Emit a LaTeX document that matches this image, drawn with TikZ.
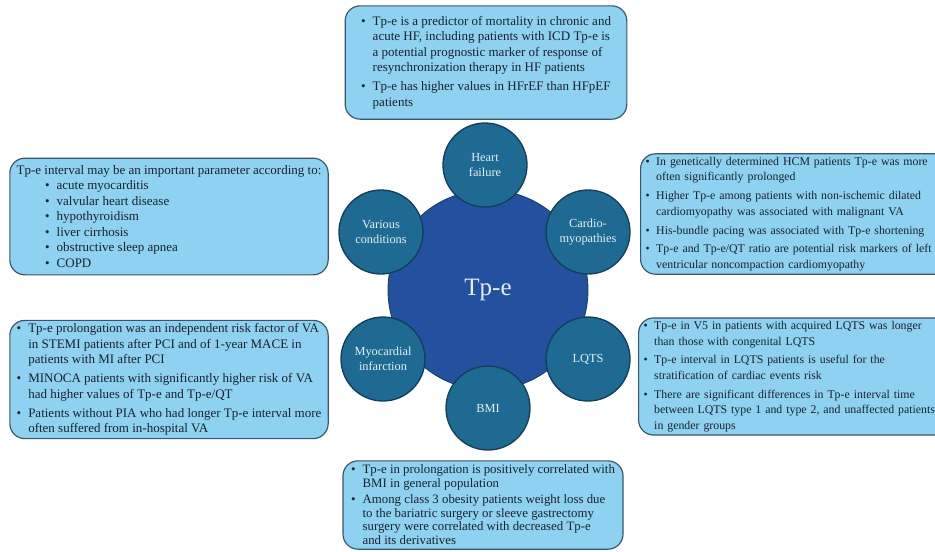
\documentclass[tikz,border=0pt]{standalone}
\usepackage{fontspec}
\setmainfont{Liberation Serif}
\usetikzlibrary{positioning}
\definecolor{tpeHub}{HTML}{2351A0}
\definecolor{tpeTopic}{HTML}{1F6A92}
\definecolor{tpeRim}{HTML}{123E5A}
\definecolor{tpeBox}{HTML}{8FD1F1}
\definecolor{tpeEdge}{HTML}{3A5568}
\definecolor{tpeInk}{HTML}{17222E}
\definecolor{tpeLabel}{HTML}{E6EEF4}
\newcommand{\itm}{\makebox[0.9em][l]{\textbullet}}
\newcommand{\cnt}{\hspace*{0.9em}}
\tikzset{
  infobox/.style={draw=tpeEdge, line width=0.7pt, fill=tpeBox, rounded corners=9pt,
              align=left, inner xsep=2pt, inner ysep=2pt, text=tpeInk,
              font=\fontsize{7.8}{9.3}\selectfont},
  narrow/.style={font=\fontsize{7.1}{9.3}\selectfont, text width=184pt, inner xsep=3pt},
  tight/.style={font=\fontsize{7.7}{8.3}\selectfont},
  hub/.style={circle, draw=tpeRim, line width=0.5pt, fill=tpeHub, minimum size=120pt,
              text=tpeLabel, font=\fontsize{15}{17}\selectfont},
  topic/.style={circle, draw=tpeRim, line width=0.8pt, fill=tpeTopic, minimum size=50.4pt,
              inner sep=0pt, align=center, text=tpeLabel, font=\fontsize{7.4}{9}\selectfont},
}

\begin{document}
\begin{tikzpicture}[x=0.6pt, y=-0.6pt]
  \clip (0,0) rectangle (935,551);
  % Tp-e in the middle, six topics around it
  \node[hub] (tpe) at (488,290) {Tp-e};
  \foreach \nm/\x/\y/\txt in {hf/485/165/{Heart\\failure},
                              cm/588/232/{Cardio-\\myopathies},
                              lq/588/359/{LQTS},
                              bm/488/408/{BMI},
                              mi/383/359/{Myocardial\\infarction},
                              vc/381/232/{Various\\conditions}}{
    \node[topic] (\nm) at (\x,\y) {\txt};
  }
  % findings per topic
  \node[infobox, minimum width=169pt, minimum height=68pt] (hfbox) at (486,62.5) {%
    \itm Tp-e is a predictor of mortality in chronic and\\
    \cnt acute HF, including patients with ICD Tp-e is\\
    \cnt a potential prognostic marker of response of\\
    \cnt resynchronization therapy in HF patients\\[2pt]
    \itm Tp-e has higher values in HFrEF than HFpEF\\
    \cnt patients};
  \node[infobox, minimum width=191pt, minimum height=70pt] (vcbox) at (169,216.5) {%
    Tp-e interval may be an important parameter according to:\\
    \hspace*{17pt}\itm acute myocarditis\\
    \hspace*{17pt}\itm valvular heart disease\\
    \hspace*{17pt}\itm hypothyroidism\\
    \hspace*{17pt}\itm liver cirrhosis\\
    \hspace*{17pt}\itm obstructive sleep apnea\\
    \hspace*{17pt}\itm COPD};
  \node[infobox, narrow, anchor=west, minimum height=67pt] (cmbox) at (640,214) {%
    \itm In genetically determined HCM patients Tp-e was more\\
    \cnt often significantly prolonged\\[2pt]
    \itm Higher Tp-e among patients with non-ischemic dilated\\
    \cnt cardiomyopathy was associated with malignant VA\\[2pt]
    \itm His-bundle pacing was associated with Tp-e shortening\\[2pt]
    \itm Tp-e and Tp-e/QT ratio are potential risk markers of left\\
    \cnt ventricular noncompaction cardiomyopathy};
  \node[infobox, minimum width=191pt, minimum height=69pt] (mibox) at (169,379.5) {%
    \itm Tp-e prolongation was an independent risk factor of VA\\
    \cnt in STEMI patients after PCI and of 1-year MACE in\\
    \cnt patients with MI after PCI\\[2pt]
    \itm MINOCA patients with significantly higher risk of VA\\
    \cnt had higher values of Tp-e and Tp-e/QT\\[2pt]
    \itm Patients without PIA who had longer Tp-e interval more\\
    \cnt often suffered from in-hospital VA};
  \node[infobox, narrow, anchor=west, minimum height=70pt] (lqbox) at (638,376.5) {%
    \itm Tp-e in V5 in patients with acquired LQTS was longer\\
    \cnt than those with congenital LQTS\\[2pt]
    \itm Tp-e interval in LQTS patients is useful for the\\
    \cnt stratification of cardiac events risk\\[2pt]
    \itm There are significant differences in Tp-e interval time\\
    \cnt between LQTS type 1 and type 2, and unaffected patients\\
    \cnt in gender groups};
  \node[infobox, tight, minimum width=168pt, minimum height=53pt] (bmbox) at (483,505) {%
    \itm Tp-e in prolongation is positively correlated with\\
    \cnt BMI in general population\\[1pt]
    \itm Among class 3 obesity patients weight loss due\\
    \cnt to the bariatric surgery or sleeve gastrectomy\\
    \cnt surgery were correlated with decreased Tp-e\\
    \cnt and its derivatives};
\end{tikzpicture}
\end{document}
